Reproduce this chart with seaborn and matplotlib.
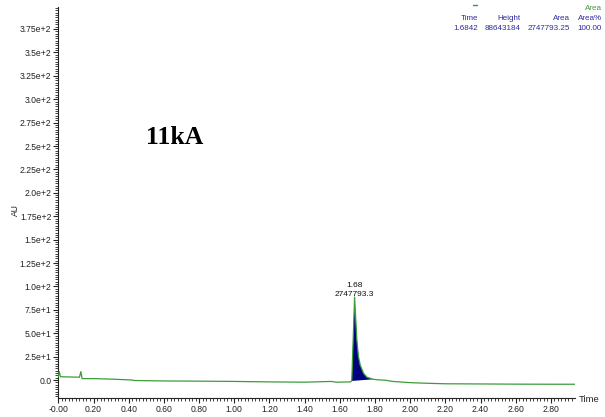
import numpy as np
import pandas as pd
import matplotlib
matplotlib.use('Agg')
import matplotlib.pyplot as plt
import seaborn as sns
from matplotlib.ticker import MultipleLocator, FixedLocator
from matplotlib.lines import Line2D

# ----------------------- data

time = [0.000, 0.005, 0.012, 0.060, 0.120, 0.128, 0.135, 0.200, 0.300, 0.420,
        0.430, 0.600, 0.800, 1.000, 1.200, 1.400, 1.550, 1.580, 1.660, 1.668,
        1.684, 1.697, 1.706, 1.716, 1.735, 1.754, 1.790, 1.820, 1.860, 1.900,
        2.000, 2.100, 2.200, 2.400, 2.600, 2.800, 2.935]
signal = [3.5, 8.9, 3.5, 3.3, 3.0, 9.0, 1.5, 1.5, 1.0, 0.0,
          -0.5, -1.0, -1.2, -1.5, -2.0, -2.3, -1.5, -2.3, -2.0, -1.0,
          88.6, 42.7, 25.0, 16.0, 7.2, 3.0, 0.8, 0.2, -0.2, -1.5,
          -2.8, -3.5, -4.0, -4.2, -4.4, -4.5, -4.5]

peak_start, peak_end = 1.668, 1.790
peak_time, peak_area = '1.68', '2747793.3'

x_ticks = [0.0, 0.2, 0.4, 0.6, 0.8, 1.0, 1.2, 1.4, 1.6, 1.8, 2.0, 2.2, 2.4, 2.6, 2.8]
x_labels = ['-0.00', '0.20', '0.40', '0.60', '0.80', '1.00', '1.20', '1.40',
            '1.60', '1.80', '2.00', '2.20', '2.40', '2.60', '2.80']
y_ticks = [0, 25, 50, 75, 100, 125, 150, 175, 200, 225, 250, 275, 300, 325, 350, 375]
y_labels = ['0.0', '2.5e+1', '5.0e+1', '7.5e+1', '1.0e+2', '1.25e+2', '1.5e+2',
            '1.75e+2', '2.0e+2', '2.25e+2', '2.5e+2', '2.75e+2', '3.0e+2',
            '3.25e+2', '3.5e+2', '3.75e+2']

table_head = ['Time', 'Height', 'Area', 'Area%']
table_vals = ['1.6842', '88643184', '2747793.25', '100.00']

# -----------------------

sns.set_style('white')
plt.rcParams['font.family'] = ['Liberation Sans', 'DejaVu Sans']

W, H = 605, 417
fig = plt.figure(figsize=(W / 100, H / 100), dpi=100)
ax = fig.add_axes([58 / W, 1 - 398 / H, (575 - 58) / W, (398 - 7) / H])

def fx(px):
	return px / W

def fy(py):
	return 1 - py / H

df = pd.DataFrame({'Time': time, 'AU': signal})

# integrated peak (dropped baseline between start and end)
pk = df[(df['Time'] >= peak_start) & (df['Time'] <= peak_end)]
ax.fill(pk['Time'], pk['AU'], color='#000080', lw=0, zorder=2)

sns.lineplot(data=df, x='Time', y='AU', ax=ax, color='#3a9d3a', lw=0.9, zorder=3)

ax.set_xlim(-0.002, 2.937)
ax.set_ylim(-19.2, 398.5)

ax.xaxis.set_major_locator(FixedLocator(x_ticks))
ax.set_xticklabels(x_labels)
ax.yaxis.set_major_locator(FixedLocator(y_ticks))
ax.set_yticklabels(y_labels)
ax.xaxis.set_minor_locator(MultipleLocator(0.02))
ax.yaxis.set_minor_locator(MultipleLocator(2.5))

ax.tick_params(which='major', length=3.5, width=0.8, colors='#222222', labelsize=6.2, pad=1.2)
ax.tick_params(which='minor', length=2, width=0.6, colors='#222222')
ax.tick_params(axis='x', which='both', bottom=True, direction='out')
ax.tick_params(axis='y', which='both', left=True, direction='out')

for s in ['top', 'right']:
	ax.spines[s].set_visible(False)
for s in ['left', 'bottom']:
	ax.spines[s].set_color('#222222')
	ax.spines[s].set_linewidth(0.8)

ax.set_xlabel('')
ax.set_ylabel('')

# top axis labels (cut off by the figure edge as in the export)
sec = ax.secondary_xaxis('top')
sec.xaxis.set_major_locator(FixedLocator(x_ticks))
sec.set_xticklabels(x_labels)
sec.tick_params(length=0, labelsize=6.2, colors='#222222', pad=4)
sec.spines['top'].set_visible(False)

fig.text(fx(15), fy(210), 'AU', rotation=90, fontsize=6.2, color='#222222',
	ha='center', va='center')
fig.text(fx(579), fy(399), 'Time', fontsize=6.8, color='#222222', ha='left', va='center')

ax.text(1.684, 101.5, peak_time, fontsize=6, ha='center', va='center', color='#111111')
ax.text(1.684, 91.9, peak_area, fontsize=6, ha='center', va='center', color='#111111')

fig.text(fx(175), fy(137), '11kA', family='Liberation Serif', weight='bold',
	fontsize=18.5, ha='center', va='center', color='black')

cols = [478, 521, 570, 602]
for c, h, v in zip(cols, table_head, table_vals):
	fig.text(fx(c), fy(19), h, fontsize=5.8, ha='right', va='center', color='#2b2b99')
	fig.text(fx(c), fy(28), v, fontsize=5.8, ha='right', va='center', color='#2b2b99')
fig.text(fx(602), fy(9), 'Area', fontsize=5.8, ha='right', va='center', color='#3a9a3a')
fig.add_artist(Line2D([fx(473), fx(477)], [fy(5), fy(5)], color='#3a9a3a', lw=1))

plt.savefig('out.png', dpi=100)
